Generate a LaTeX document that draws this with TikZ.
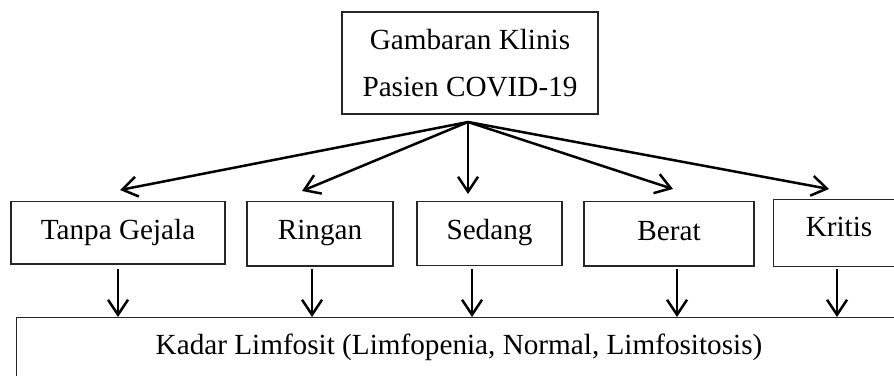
\documentclass[tikz,border=0pt]{standalone}
\usepackage{fontspec}
\setmainfont{Liberation Serif}
\usetikzlibrary{arrows.meta}
\begin{document}
\begin{tikzpicture}[x=0.5pt,y=-0.5pt,
  box/.style={draw=black!85,line width=0.65pt,inner sep=0pt,font=\fontsize{14.6}{23.5}\selectfont,align=center},
  lvl/.style={box,text height=#1,text depth=3.5pt},
  arr/.style={line width=1.25pt,-{Straight Barb[length=7.5pt,width=10pt,line width=1.25pt]}}]
\useasboundingbox (0,0) rectangle (894,375);
\clip (0,0) rectangle (894,375);
\fill[white] (0,0) rectangle (894,375);
\node[box,minimum width=128pt,minimum height=51pt] (top) at (470,63) {Gambaran Klinis\\Pasien COVID-19};
\node[lvl=9.95pt,minimum width=107pt,minimum height=31.15pt] (tanpa) at (118,232.85) {Tanpa Gejala};
\node[lvl=8.95pt,minimum width=73pt,minimum height=32.15pt] (ringan) at (320,233.85) {Ringan};
\node[lvl=9.1pt,minimum width=72.5pt,minimum height=32pt] (sedang) at (489.5,233.7) {Sedang};
\node[lvl=9.65pt,minimum width=85pt,minimum height=32.15pt] (berat) at (669,233.85) {Berat};
\node[box,minimum width=65.5pt,minimum height=33.7pt,text height=8.2pt,text depth=4.5pt] (kritis) at (839,233) {Kritis};
\node[box,minimum width=443pt,minimum height=36pt,anchor=north west] (kadarbox) at (16,317) {};
\node[font=\fontsize{14.6}{17}\selectfont,inner sep=0pt] (kadar) at (459,347) {Kadar Limfosit (Limfopenia, Normal, Limfositosis)};
\coordinate (o) at (468,122);
\coordinate (t1) at (120,190);
\coordinate (t2) at (302,191);
\coordinate (t3) at (468,194);
\coordinate (t4) at (673,189);
\coordinate (t5) at (829,189);
\foreach \t in {t1,t2,t3,t4,t5}{\draw[arr] (o) -- (\t);}
\foreach \x/\n in {118/a,312/b,472/c,677/d,837/e}{
  \coordinate (s\n) at (\x,269);
  \draw[arr] (s\n) -- (s\n |- kadarbox.north);
}
\end{tikzpicture}
\end{document}
